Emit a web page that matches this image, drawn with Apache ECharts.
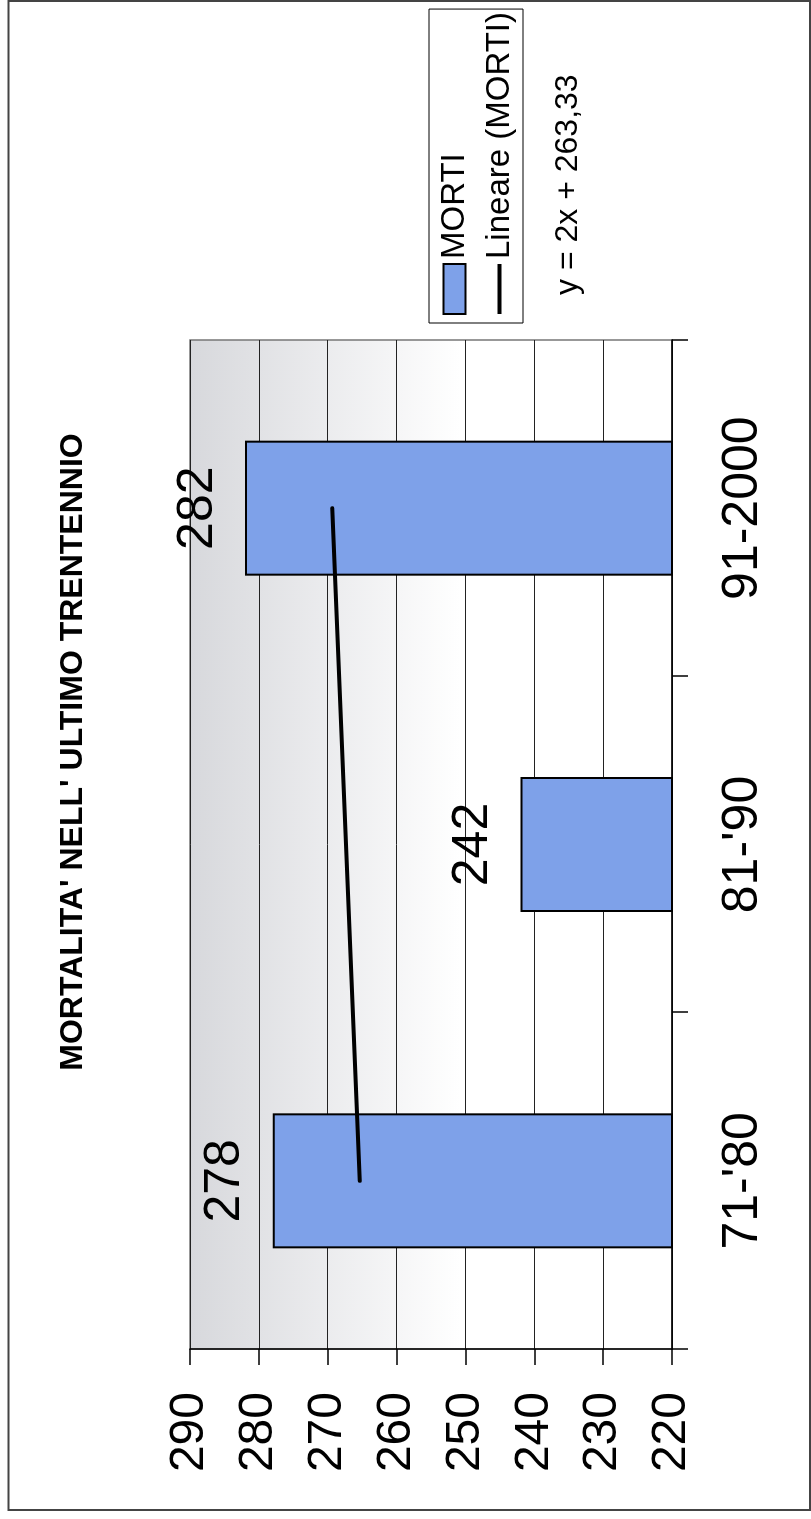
<!DOCTYPE html>
<html>
<head>
<meta charset="utf-8">
<script src="https://cdn.jsdelivr.net/npm/echarts/dist/echarts.min.js"></script>
<style>
    html, body { margin: 0; padding: 0; background: #fff; overflow: hidden; }
    /* the chart is drawn landscape and turned a quarter turn to the left */
    #chart {
        position: absolute; left: 0; top: 0;
        width: 1519px; height: 811px;
        transform-origin: 0 0;
        transform: translate(0, 1519px) rotate(-90deg);
    }
</style>
</head>
<body>
<div id="chart"></div>
<script>
// data
var categories = ["71-'80", "81-'90", "91-2000"];
var morti = [278, 242, 282];
var trendValues = [265.33, 267.33, 269.33];   // y = 2x + 263,33
var valueTicks = { min: 220, max: 290, step: 10 };
var titleText = "MORTALITA' NELL' ULTIMO TRENTENNIO";
var equationText = 'y = 2x + 263,33';

var font = '"Liberation Sans", Arial, sans-serif';

var myChart = echarts.init(document.getElementById('chart'));
var option = {
    backgroundColor: '#fff',
    animation: false,

    title: {
        text: titleText,
        left: 767,
        textAlign: 'center',
        top: 57,
        padding: 0,
        textStyle: {
            fontFamily: font,
            fontSize: 32,
            fontWeight: 'bold',
            color: '#000'
        }
    },

    legend: {
        orient: 'vertical',
        left: 1196,
        top: 429,
        padding: [8, 3, 6, 8],
        itemGap: 10,
        itemWidth: 50,
        itemHeight: 22,
        borderColor: '#000',
        borderWidth: 1,
        textStyle: {
            fontFamily: font,
            fontSize: 33,
            lineHeight: 35,
            color: '#000'
        },
        data: [
            { name: 'MORTI', icon: 'rect' },
            { name: 'Lineare (MORTI)', icon: 'path://M0,0 H50 V4 H0 Z' }
        ]
    },

    grid: {
        left: 170,
        right: 340,
        top: 190,
        bottom: 139,
        show: true,
        borderColor: '#777',
        borderWidth: 1.5,
        backgroundColor: {
            type: 'linear', x: 0, y: 0, x2: 0, y2: 1,
            colorStops: [
                { offset: 0, color: '#d7d8dc' },
                { offset: 0.56, color: '#ffffff' },
                { offset: 1, color: '#ffffff' }
            ]
        }
    },

    xAxis: {
        type: 'category',
        data: categories,
        axisLine: { lineStyle: { color: '#000', width: 1.5 } },
        axisTick: { show: true, length: 16, lineStyle: { color: '#000', width: 1.5 } },
        axisLabel: {
            margin: 46,
            fontFamily: font,
            fontSize: 50,
            color: '#000'
        }
    },

    yAxis: {
        type: 'value',
        min: valueTicks.min,
        max: valueTicks.max,
        interval: valueTicks.step,
        axisLine: { show: true, lineStyle: { color: '#000', width: 1.5 } },
        axisTick: { show: true, length: 16, lineStyle: { color: '#000', width: 1.5 } },
        axisLabel: {
            margin: 43,
            fontFamily: font,
            fontSize: 48,
            color: '#000'
        },
        splitLine: { lineStyle: { color: '#222', width: 1 } }
    },

    series: [
        {
            name: 'MORTI',
            type: 'bar',
            data: morti,
            barWidth: 135,
            itemStyle: {
                color: '#7ea1e9',
                borderColor: '#000',
                borderWidth: 2
            },
            label: {
                show: true,
                position: 'top',
                distance: 22,
                fontFamily: font,
                fontSize: 50,
                color: '#000'
            }
        },
        {
            name: 'Lineare (MORTI)',
            type: 'line',
            data: trendValues,
            symbol: 'none',
            lineStyle: { color: '#000', width: 4, cap: 'round' },
            itemStyle: { color: '#000' },
            z: 5
        }
    ],

    graphic: [
        {
            type: 'text',
            x: 1224,
            y: 568,
            style: {
                text: equationText,
                font: '32px ' + font,
                fill: '#000',
                verticalAlign: 'middle'
            }
        },
        {
            type: 'rect',
            shape: { x: 9, y: 8.5, width: 1509, height: 801.5 },
            style: { fill: null, stroke: '#444', lineWidth: 2 },
            silent: true
        }
    ]
};

myChart.setOption(option);
</script>
</body>
</html>
